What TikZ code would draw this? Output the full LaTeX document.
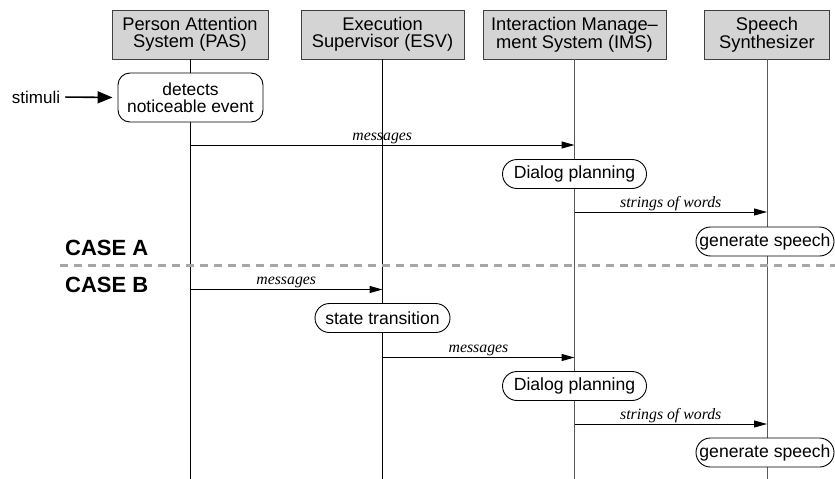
\documentclass[tikz,border=0pt]{standalone}
\usepackage{fontspec}
\setmainfont{Liberation Sans}
\newfontfamily\serifit{Liberation Serif}
\usetikzlibrary{arrows.meta,shapes.misc}
\begin{document}
\begin{tikzpicture}[x=1pt,y=-1pt,
  hdr/.style={draw=black!75, fill=black!17, line width=0.9pt, minimum height=49pt, inner sep=0pt, align=center, font=\fontsize{18.3}{16.8}\selectfont},
  act/.style={draw=black, fill=white, line width=0.9pt, rounded rectangle, inner sep=0pt, minimum height=29pt, font=\fontsize{17.6}{17}\selectfont},
  actbox/.style={draw=black, fill=white, line width=0.9pt, rounded corners=12pt, inner sep=0pt, align=center, minimum height=49pt, font=\fontsize{17.4}{17}\selectfont},
  lifeA/.style={draw=black, line width=0.9pt},
  lifeB/.style={draw=black!65, line width=0.9pt},
  msg/.style={draw=black, line width=1pt, -{Triangle[length=13pt,width=7pt]}},
  lbl/.style={font=\serifit\itshape\fontsize{15.8}{16}\selectfont, inner sep=0pt, anchor=base, yshift=5pt},
  casetxt/.style={font=\bfseries\fontsize{22}{22}\selectfont, inner sep=0pt, anchor=west},
]
\useasboundingbox (0,0) rectangle (835,479);

% headers
\node[hdr, minimum width=156pt] (pas) at (190,34.5) {Person Attention\\System (PAS)};
\node[hdr, minimum width=163pt] (esv) at (382.5,34.5) {Execution\\Supervisor (ESV)};
\node[hdr, minimum width=183pt] (ims) at (574.5,34.5) {Interaction Manage–\\ment System (IMS)};
\node[hdr, minimum width=125pt] (sps) at (767,34.5) {Speech\\Synthesizer};

\coordinate (pasE) at (190,479);
\coordinate (esvE) at (382.5,479);
\coordinate (imsE) at (574.5,479);
\coordinate (spsE) at (767,479);

% lifelines
\draw[lifeA] (pas.south) -- (pasE);
\draw[lifeA] (esv.south) -- (esvE);
\draw[lifeB] (ims.south) -- (imsE);
\draw[lifeB] (sps.south) -- (spsE);

% dashed separator
\coordinate (dl) at (60,265.5);
\coordinate (dr) at (835,265.5);
\draw[draw=black!35, line width=3pt, dash pattern=on 8pt off 6pt] (dl) -- (dr);

\node[casetxt] (caseA) at (65,248) {CASE A};
\node[casetxt] (caseB) at (65,285) {CASE B};

% activities
\node[actbox, minimum width=145pt] (det) at (190.5,97.5) {detects\\noticeable event};
\node[act, minimum width=144pt] (dp1) at (574.5,174) {Dialog planning};
\node[act, minimum width=138pt] (gs1) at (765,241.5) {generate speech};
\node[act, minimum width=135pt] (st) at (382.5,318) {state transition};
\node[act, minimum width=144pt] (dp2) at (574.5,386) {Dialog planning};
\node[act, minimum width=138pt] (gs2) at (765,452.5) {generate speech};

% stimuli
\node[inner sep=0pt, font=\fontsize{17}{17}\selectfont] (stim) at (36,97) {stimuli};
\draw[line width=1.6pt, -{Triangle[length=15pt,width=12pt]}, shorten <=5pt, shorten >=5pt] (stim.east) -- (det.west);

% messages
\coordinate (a1) at (190,145); \coordinate (b1) at (574.5,145);
\draw[msg] (a1) -- node[lbl]{messages} (b1);
\coordinate (a2) at (574.5,212); \coordinate (b2) at (767,212);
\draw[msg] (a2) -- node[lbl]{strings of words} (b2);
\coordinate (a3) at (190,289.5); \coordinate (b3) at (382.5,289.5);
\draw[msg] (a3) -- node[lbl]{messages} (b3);
\coordinate (a4) at (382.5,357.5); \coordinate (b4) at (574.5,357.5);
\draw[msg] (a4) -- node[lbl]{messages} (b4);
\coordinate (a5) at (574.5,424); \coordinate (b5) at (767,424);
\draw[msg] (a5) -- node[lbl]{strings of words} (b5);
\end{tikzpicture}
\end{document}
